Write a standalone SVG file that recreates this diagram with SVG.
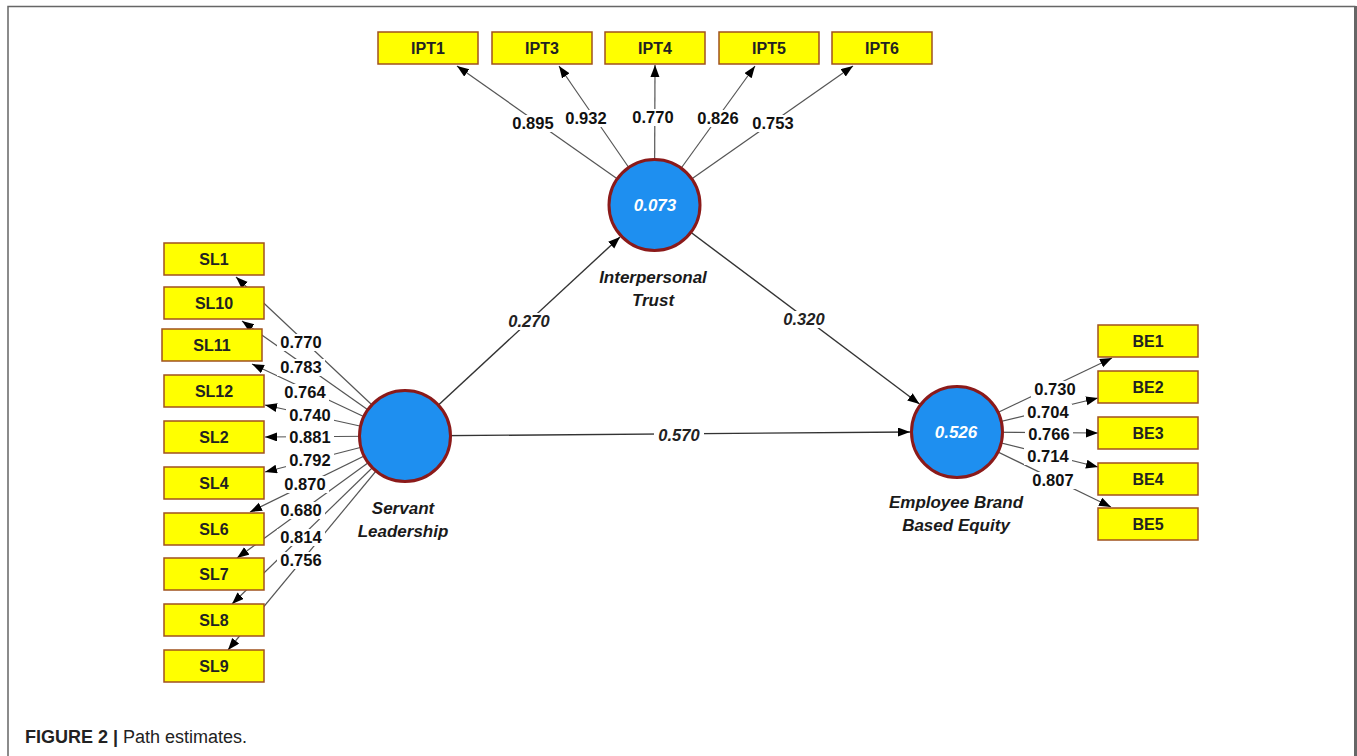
<svg xmlns="http://www.w3.org/2000/svg" width="1357" height="756" viewBox="0 0 1357 756">
<defs>
<marker id="ah" markerUnits="userSpaceOnUse" markerWidth="13" markerHeight="10" refX="12" refY="4.5" orient="auto">
<path d="M0,0 L12,4.5 L0,9 z" fill="#000"/>
</marker>
<style>
.ld{stroke:#555;stroke-width:1.2;fill:none}
.pt{stroke:#333;stroke-width:1.4;fill:none}
.bx{fill:#ffff00;stroke:#a0521e;stroke-width:1.5}
.bt{font-family:"Liberation Sans",Arial,sans-serif;font-weight:bold;font-size:16px;fill:#222;text-anchor:middle}
.lv{font-family:"Liberation Sans",Arial,sans-serif;font-weight:bold;font-size:16.5px;fill:#111;text-anchor:middle}
.pv{font-family:"Liberation Sans",Arial,sans-serif;font-weight:bold;font-style:italic;font-size:16.5px;fill:#222;text-anchor:middle}
.nl{font-family:"Liberation Sans",Arial,sans-serif;font-weight:bold;font-style:italic;font-size:17px;fill:#1a1a1a;text-anchor:middle}
.cv{font-family:"Liberation Sans",Arial,sans-serif;font-weight:bold;font-style:italic;font-size:17px;fill:#fff;text-anchor:middle}
.cc{fill:#1e8ff0;stroke:#8b1a1a;stroke-width:3}
.bg{fill:#fff}
</style>
</defs>
<rect width="1357" height="756" fill="#fff"/>
<path d="M8,756 L8,6.5 L1355.5,6.5" fill="none" stroke="#666" stroke-width="1.5"/>
<line x1="1355.5" y1="6" x2="1355.5" y2="756" stroke="#666" stroke-width="3"/>

<g id="connectors">
<line class="ld" x1="654.5" y1="205" x2="457" y2="66" marker-end="url(#ah)"/>
<line class="ld" x1="654.5" y1="205" x2="559" y2="66" marker-end="url(#ah)"/>
<line class="ld" x1="654.5" y1="205" x2="655" y2="65" marker-end="url(#ah)"/>
<line class="ld" x1="654.5" y1="205" x2="755" y2="66" marker-end="url(#ah)"/>
<line class="ld" x1="654.5" y1="205" x2="853" y2="66" marker-end="url(#ah)"/>
<line class="ld" x1="405" y1="436" x2="236" y2="277" marker-end="url(#ah)"/>
<line class="ld" x1="405" y1="436" x2="242" y2="321" marker-end="url(#ah)"/>
<line class="ld" x1="405" y1="436" x2="252" y2="364" marker-end="url(#ah)"/>
<line class="ld" x1="405" y1="436" x2="265" y2="405" marker-end="url(#ah)"/>
<line class="ld" x1="405" y1="436" x2="265" y2="437" marker-end="url(#ah)"/>
<line class="ld" x1="405" y1="436" x2="265" y2="472" marker-end="url(#ah)"/>
<line class="ld" x1="405" y1="436" x2="250" y2="512" marker-end="url(#ah)"/>
<line class="ld" x1="405" y1="436" x2="237" y2="558" marker-end="url(#ah)"/>
<line class="ld" x1="405" y1="436" x2="232" y2="604" marker-end="url(#ah)"/>
<line class="ld" x1="405" y1="436" x2="228" y2="650" marker-end="url(#ah)"/>
<line class="ld" x1="957" y1="432" x2="1112" y2="358" marker-end="url(#ah)"/>
<line class="ld" x1="957" y1="432" x2="1098" y2="398" marker-end="url(#ah)"/>
<line class="ld" x1="957" y1="432" x2="1098" y2="433" marker-end="url(#ah)"/>
<line class="ld" x1="957" y1="432" x2="1098" y2="467" marker-end="url(#ah)"/>
<line class="ld" x1="957" y1="432" x2="1111" y2="507" marker-end="url(#ah)"/>
<line class="pt" x1="405" y1="436" x2="620" y2="237" marker-end="url(#ah)"/>
<line class="pt" x1="654.5" y1="205" x2="919.5" y2="404" marker-end="url(#ah)"/>
<line class="pt" x1="405" y1="436" x2="910" y2="432" marker-end="url(#ah)"/>
</g>

<g id="labels">
<rect class="bg" x="509" y="115" width="48" height="17"/><text class="lv" x="533" y="129">0.895</text>
<rect class="bg" x="562" y="110" width="48" height="17"/><text class="lv" x="586" y="124">0.932</text>
<rect class="bg" x="629" y="109" width="48" height="17"/><text class="lv" x="653" y="123">0.770</text>
<rect class="bg" x="694" y="110" width="48" height="17"/><text class="lv" x="718" y="124">0.826</text>
<rect class="bg" x="749" y="115" width="48" height="17"/><text class="lv" x="773" y="129">0.753</text>

<rect class="bg" x="277" y="334" width="48" height="17"/><text class="lv" x="301" y="348">0.770</text>
<rect class="bg" x="277" y="359" width="48" height="17"/><text class="lv" x="301" y="373">0.783</text>
<rect class="bg" x="281" y="384" width="48" height="17"/><text class="lv" x="305" y="398">0.764</text>
<rect class="bg" x="286" y="407" width="48" height="17"/><text class="lv" x="310" y="421">0.740</text>
<rect class="bg" x="286" y="429" width="48" height="17"/><text class="lv" x="310" y="443">0.881</text>
<rect class="bg" x="286" y="452" width="48" height="17"/><text class="lv" x="310" y="466">0.792</text>
<rect class="bg" x="281" y="476" width="48" height="17"/><text class="lv" x="305" y="490">0.870</text>
<rect class="bg" x="277" y="502" width="48" height="17"/><text class="lv" x="301" y="516">0.680</text>
<rect class="bg" x="277" y="529" width="48" height="17"/><text class="lv" x="301" y="543">0.814</text>
<rect class="bg" x="277" y="552" width="48" height="17"/><text class="lv" x="301" y="566">0.756</text>

<rect class="bg" x="1031" y="381" width="48" height="17"/><text class="lv" x="1055" y="395">0.730</text>
<rect class="bg" x="1024" y="404" width="48" height="17"/><text class="lv" x="1048" y="418">0.704</text>
<rect class="bg" x="1025" y="426" width="48" height="17"/><text class="lv" x="1049" y="440">0.766</text>
<rect class="bg" x="1024" y="448" width="48" height="17"/><text class="lv" x="1048" y="462">0.714</text>
<rect class="bg" x="1029" y="472" width="48" height="17"/><text class="lv" x="1053" y="486">0.807</text>

<rect class="bg" x="505" y="313" width="48" height="17"/><text class="pv" x="529" y="327">0.270</text>
<rect class="bg" x="780" y="311" width="48" height="17"/><text class="pv" x="804" y="325">0.320</text>
<rect class="bg" x="654" y="427" width="50" height="17"/><text class="pv" x="679" y="441">0.570</text>
</g>

<g id="IPT1"><rect class="bx" x="378" y="32" width="100" height="32"/><text class="bt" x="428" y="53.5">IPT1</text></g>
<g id="IPT3"><rect class="bx" x="492" y="32" width="100" height="32"/><text class="bt" x="542" y="53.5">IPT3</text></g>
<g id="IPT4"><rect class="bx" x="605" y="32" width="100" height="32"/><text class="bt" x="655" y="53.5">IPT4</text></g>
<g id="IPT5"><rect class="bx" x="719" y="32" width="100" height="32"/><text class="bt" x="769" y="53.5">IPT5</text></g>
<g id="IPT6"><rect class="bx" x="832" y="32" width="100" height="32"/><text class="bt" x="882" y="53.5">IPT6</text></g>

<g id="SL1"><rect class="bx" x="164" y="243" width="100" height="32"/><text class="bt" x="214" y="264.5">SL1</text></g>
<g id="SL10"><rect class="bx" x="164" y="287" width="100" height="32"/><text class="bt" x="214" y="308.5">SL10</text></g>
<g id="SL11"><rect class="bx" x="162" y="329" width="100" height="32"/><text class="bt" x="212" y="350.5">SL11</text></g>
<g id="SL12"><rect class="bx" x="164" y="375" width="100" height="32"/><text class="bt" x="214" y="396.5">SL12</text></g>
<g id="SL2"><rect class="bx" x="164" y="421" width="100" height="32"/><text class="bt" x="214" y="442.5">SL2</text></g>
<g id="SL4"><rect class="bx" x="164" y="467" width="100" height="32"/><text class="bt" x="214" y="488.5">SL4</text></g>
<g id="SL6"><rect class="bx" x="164" y="513" width="100" height="32"/><text class="bt" x="214" y="534.5">SL6</text></g>
<g id="SL7"><rect class="bx" x="164" y="558" width="100" height="32"/><text class="bt" x="214" y="579.5">SL7</text></g>
<g id="SL8"><rect class="bx" x="164" y="604" width="100" height="32"/><text class="bt" x="214" y="625.5">SL8</text></g>
<g id="SL9"><rect class="bx" x="164" y="650" width="100" height="32"/><text class="bt" x="214" y="671.5">SL9</text></g>

<g id="BE1"><rect class="bx" x="1098" y="325" width="100" height="32"/><text class="bt" x="1148" y="346.5">BE1</text></g>
<g id="BE2"><rect class="bx" x="1098" y="371" width="100" height="32"/><text class="bt" x="1148" y="392.5">BE2</text></g>
<g id="BE3"><rect class="bx" x="1098" y="417" width="100" height="32"/><text class="bt" x="1148" y="438.5">BE3</text></g>
<g id="BE4"><rect class="bx" x="1098" y="463" width="100" height="32"/><text class="bt" x="1148" y="484.5">BE4</text></g>
<g id="BE5"><rect class="bx" x="1098" y="508" width="100" height="32"/><text class="bt" x="1148" y="529.5">BE5</text></g>

<g id="InterpersonalTrust">
<circle class="cc" cx="654.5" cy="205" r="45.5"/>
<text class="cv" x="655" y="211">0.073</text>
<text class="nl" x="653" y="283">Interpersonal</text>
<text class="nl" x="653" y="306">Trust</text>
</g>
<g id="ServantLeadership">
<circle class="cc" cx="405" cy="436" r="45.5"/>
<text class="nl" x="403" y="514">Servant</text>
<text class="nl" x="403" y="537">Leadership</text>
</g>
<g id="EmployeeBrandBasedEquity">
<circle class="cc" cx="957" cy="432" r="45.5"/>
<text class="cv" x="956" y="438">0.526</text>
<text class="nl" x="956" y="508">Employee Brand</text>
<text class="nl" x="956" y="531">Based Equity</text>
</g>

<text x="25" y="743" font-family="'Liberation Sans',Arial,sans-serif" font-size="18" fill="#222"><tspan font-weight="bold">FIGURE 2 | </tspan><tspan>Path estimates.</tspan></text>
</svg>
